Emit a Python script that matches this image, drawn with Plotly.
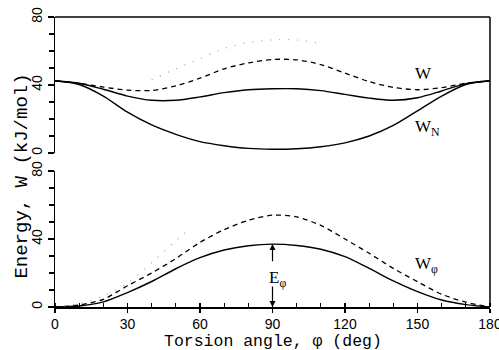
import plotly.graph_objects as go

# ---------------- data ----------------
angle = [0, 10, 20, 30, 40, 50, 60, 70, 80, 90, 100, 110, 120, 130, 140, 150, 160, 170, 180]

# top panel
W_N = [42.5, 40.3, 33.5, 24, 16.5, 11, 6.7, 4.3, 2.7, 2.2, 2.5, 3.7, 6.0, 10.0, 16.2, 24.8, 33.5, 40.3, 42.5]
W_solid = [42.5, 41, 37.5, 33.5, 31, 31, 33, 35.5, 37.2, 37.8, 37.8, 36.7, 34.5, 32.3, 31, 32.5, 36.5, 40.8, 42.5]
W_dashed = [42.5, 41, 38.8, 37, 36.8, 39.5, 44, 49.5, 53, 55, 54.8, 52, 47, 42, 38.6, 37.2, 38.5, 41, 42.5]
dot_top_angle = [40, 50, 60, 70, 80, 90, 100, 110]
W_dotted = [43, 49.5, 55.5, 61.5, 65, 66.5, 66.5, 64.5]

# bottom panel
E_phi = [0, 0.6, 3, 8.5, 15, 22.5, 29, 33.5, 36, 37, 36.2, 34, 29.6, 22.7, 15.3, 9, 4.1, 1.4, 0]
W_phi = [0, 1.2, 4.5, 12.5, 20, 28.5, 38, 45.5, 51, 54, 53, 48, 40, 31.6, 22.7, 14.9, 7.5, 2.8, 0]
dot_bot_angle = [0, 10, 20, 30, 40, 50, 55]
W_phi_dotted = [0, 2, 6.5, 14, 26, 39, 45]

x_ticks = [0, 30, 60, 90, 120, 150, 180]
y_ticks = [0, 40, 80]

# ---------------- figure ----------------
fig = go.Figure()
solid = dict(color="black", width=1.4, shape="spline", smoothing=0.8)
dashed = dict(color="black", width=1.3, dash="5px,4px", shape="spline", smoothing=0.8)
dotted = dict(color="#a0a0a0", width=1.2, dash="1px,8px", shape="spline", smoothing=0.8)

fig.add_trace(go.Scatter(x=angle, y=W_N, mode="lines", line=solid, xaxis="x", yaxis="y"))
fig.add_trace(go.Scatter(x=angle, y=W_solid, mode="lines", line=solid, xaxis="x", yaxis="y"))
fig.add_trace(go.Scatter(x=angle, y=W_dashed, mode="lines", line=dashed, xaxis="x", yaxis="y"))
fig.add_trace(go.Scatter(x=dot_top_angle, y=W_dotted, mode="lines", line=dotted, xaxis="x", yaxis="y"))

fig.add_trace(go.Scatter(x=angle, y=E_phi, mode="lines", line=solid, xaxis="x2", yaxis="y2"))
fig.add_trace(go.Scatter(x=angle, y=W_phi, mode="lines", line=dashed, xaxis="x2", yaxis="y2"))
fig.add_trace(go.Scatter(x=dot_bot_angle, y=W_phi_dotted, mode="lines", line=dotted, xaxis="x2", yaxis="y2"))

tickfont = dict(family="Liberation Sans", size=14, color="black")
serif = "Liberation Serif"

yax_common = dict(
    range=[0, 80], tickvals=y_ticks, ticktext=[str(v) for v in y_ticks],
    tickangle=-90, ticks="outside", ticklen=6, tickwidth=1.2, tickcolor="black",
    minor=dict(dtick=10, ticks="outside", ticklen=5, tickwidth=1.2, tickcolor="black"),
    showline=True, linecolor="black", linewidth=1.5, showgrid=False, zeroline=False,
    tickfont=tickfont, fixedrange=True, automargin=False,
)

fig.update_layout(
    width=499, height=350,
    margin=dict(l=55, r=9, t=17, b=43),
    paper_bgcolor="white", plot_bgcolor="white",
    showlegend=False,
    xaxis=dict(domain=[0, 1], range=[0, 180], anchor="y", showline=False, showticklabels=False,
               ticks="", showgrid=False, zeroline=False, automargin=False),
    yaxis=dict(domain=[0.531, 1.0], anchor="x", **yax_common),
    xaxis2=dict(domain=[0, 1], range=[0, 180], anchor="y2", tickvals=x_ticks,
                ticks="outside", ticklen=4, tickwidth=1.2, tickcolor="black",
                minor=dict(dtick=10, ticks="inside", ticklen=4, tickwidth=1.2, tickcolor="black"),
                showline=True, linecolor="black", linewidth=1.5, showgrid=False, zeroline=False,
                tickfont=tickfont, automargin=False, ticklabeloverflow="allow"),
    yaxis2=dict(domain=[0.0, 0.469], anchor="x2", **yax_common),
)

# frame: top line and right line
fig.add_shape(type="line", xref="paper", yref="paper", x0=0, x1=1, y0=1, y1=1,
              line=dict(color="black", width=1.5))
fig.add_shape(type="line", xref="paper", yref="paper", x0=1, x1=1, y0=0, y1=1,
              line=dict(color="black", width=1.5))

# axis titles
fig.add_annotation(xref="paper", yref="paper", x=-0.048, y=0.45, xanchor="right", yanchor="middle",
                   text="Energy, W (kJ/mol)", textangle=-90, showarrow=False,
                   font=dict(family="Liberation Mono", size=19, color="black"))
fig.add_annotation(xref="paper", yref="paper", x=0.5, y=-0.118, xanchor="center", yanchor="middle",
                   text="Torsion angle, φ (deg)", showarrow=False,
                   font=dict(family="Liberation Mono", size=16.5, color="black"))

lab = dict(family=serif, size=17, color="black")
fig.add_annotation(x=148.2, y=47, xref="x", yref="y", text="W", showarrow=False,
                   xanchor="left", yanchor="middle", font=lab)
fig.add_annotation(x=148.2, y=14.5, xref="x", yref="y", text="W<sub>N</sub>", showarrow=False,
                   xanchor="left", yanchor="middle", font=lab)
fig.add_annotation(x=148.2, y=24.5, xref="x2", yref="y2", text="W<sub>φ</sub>", showarrow=False,
                   xanchor="left", yanchor="middle", font=lab)
fig.add_annotation(x=87.8, y=16.5, xref="x2", yref="y2", text="E<sub>φ</sub>", showarrow=False,
                   xanchor="left", yanchor="middle", font=lab)

# double arrow for E_phi
fig.add_annotation(x=90, y=37, ax=90, ay=26, xref="x2", yref="y2", axref="x2", ayref="y2",
                   text="", showarrow=True, arrowhead=2, arrowsize=1, arrowwidth=1.2, arrowcolor="black")
fig.add_annotation(x=90, y=0, ax=90, ay=13, xref="x2", yref="y2", axref="x2", ayref="y2",
                   text="", showarrow=True, arrowhead=2, arrowsize=1, arrowwidth=1.2, arrowcolor="black")

fig.write_html("out.html", config={"displayModeBar": False, "staticPlot": True},
               post_script="document.body.style.margin='0';document.body.style.overflow='hidden';")
